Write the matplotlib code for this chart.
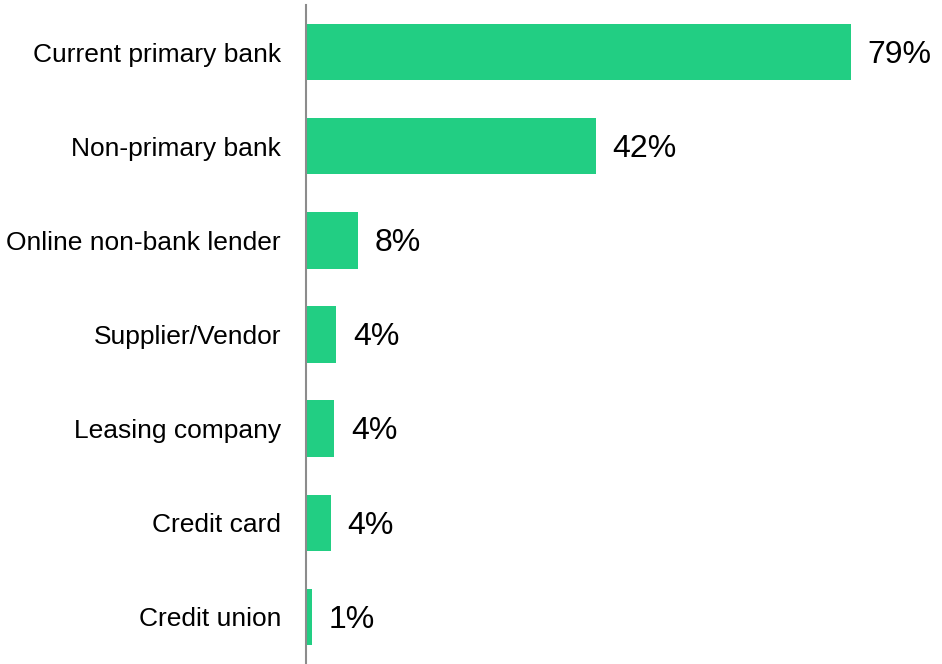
import matplotlib

matplotlib.use("Agg")
import matplotlib.pyplot as plt

# survey share by source of financing, top to bottom
categories = [
    "Current primary bank",
    "Non-primary bank",
    "Online non-bank lender",
    "Supplier/Vendor",
    "Leasing company",
    "Credit card",
    "Credit union",
]
shares = [79, 42, 7.6, 4.4, 4.1, 3.6, 0.8]

BAR_COLOR = "#22CE83"
AXIS_COLOR = "#8C8C8C"

plt.rcParams["font.family"] = ["Liberation Sans", "DejaVu Sans"]

fig = plt.figure(figsize=(9.42, 6.64), dpi=100)
ax = fig.add_axes([306 / 942, 0.0, 636 / 942, 659 / 664])

positions = list(range(len(categories)))
bars = ax.barh(positions, shares, height=0.6, color=BAR_COLOR)

for bar, value in zip(bars, shares):
    ax.annotate(
        f"{value:.0f}%",
        xy=(bar.get_width(), bar.get_y() + bar.get_height() / 2),
        xytext=(12, -2),
        textcoords="offset points",
        ha="left",
        va="center",
        fontsize=23,
        color="black",
    )

ax.set_yticks(positions)
ax.set_yticklabels(categories, fontsize=19)
ax.set_ylim(len(categories) - 0.5, -0.5)
ax.set_xlim(0, 92.2)

ax.tick_params(axis="y", length=0, pad=18)
ax.set_xticks([])
for side in ("top", "right", "bottom"):
    ax.spines[side].set_visible(False)
ax.spines["left"].set_color(AXIS_COLOR)
ax.spines["left"].set_linewidth(1.5)

fig.savefig("out.png", dpi=100)
plt.close(fig)
